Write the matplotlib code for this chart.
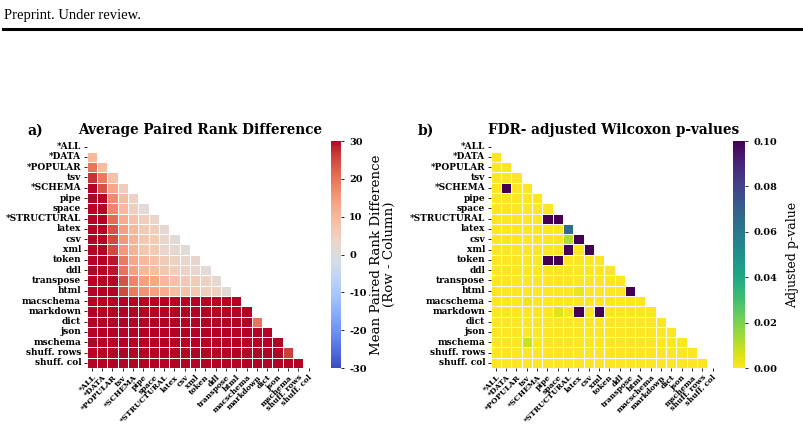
import numpy as np
import pandas as pd
import matplotlib
matplotlib.use('Agg')
import matplotlib.pyplot as plt
import seaborn as sns
from matplotlib.lines import Line2D

labels = ['*ALL', '*DATA', '*POPULAR', 'tsv', '*SCHEMA', 'pipe', 'space',
          '*STRUCTURAL', 'latex', 'csv', 'xml', 'token', 'ddl', 'transpose',
          'html', 'macschema', 'markdown', 'dict', 'json', 'mschema',
          'shuff. rows', 'shuff. col']

# mean paired rank difference (row - column), lower triangle, row by row
rank_diff_rows = [
    [],
    [10],
    [20, 9],
    [27, 19, 8],
    [32, 24, 13, 5],
    [32, 30, 17, 9, 4],
    [32, 31, 18, 10, 5, 1],
    [32, 31, 21, 12, 8, 5, 3],
    [33, 31, 24, 14, 10, 6, 5, 2],
    [33, 32, 25, 15, 11, 7, 6, 3, 1],
    [33, 32, 25, 15, 11, 7, 6, 3, 2, 1],
    [34, 33, 29, 19, 13, 10, 8, 6, 4, 3, 3],
    [34, 33, 29, 20, 14, 10, 9, 7, 5, 4, 3, 1],
    [35, 34, 30, 24, 18, 14, 13, 10, 8, 7, 6, 4, 2],
    [35, 34, 31, 25, 19, 16, 14, 12, 9, 8, 7, 5, 4, 1],
    [60, 58, 55, 50, 46, 44, 43, 41, 39, 38, 37, 35, 34, 32, 31],
    [63, 61, 58, 53, 49, 47, 46, 44, 42, 41, 40, 38, 37, 35, 34, 32],
    [66, 64, 61, 56, 52, 50, 49, 47, 45, 44, 43, 41, 40, 38, 37, 35, 20],
    [70, 68, 65, 60, 56, 54, 53, 51, 49, 48, 47, 45, 44, 42, 41, 39, 33, 31],
    [74, 72, 69, 64, 60, 58, 57, 55, 53, 52, 51, 49, 48, 46, 45, 43, 37, 35, 32],
    [77, 75, 72, 67, 63, 61, 60, 58, 56, 55, 54, 52, 51, 49, 48, 46, 40, 38, 35, 26],
    [82, 80, 77, 72, 68, 66, 65, 63, 61, 60, 59, 57, 56, 54, 53, 51, 45, 43, 40, 36, 31],
]

# FDR-adjusted Wilcoxon p-values, lower triangle, row by row
pval_rows = [
    [],
    [0.0],
    [0.0, 0.0],
    [0.0, 0.0, 0.0],
    [0.0, 0.2, 0.0, 0.0],
    [0.0, 0.0, 0.0, 0.0, 0.0],
    [0.0, 0.0, 0.0, 0.0, 0.0, 0.0],
    [0.0, 0.0, 0.0, 0.0, 0.0, 0.2, 0.2],
    [0.0, 0.0, 0.0, 0.0, 0.0, 0.0, 0.0, 0.065],
    [0.0, 0.0, 0.0, 0.0, 0.0, 0.0, 0.0, 0.012, 0.2],
    [0.0, 0.0, 0.0, 0.0, 0.0, 0.0, 0.0, 0.2, 0.0, 0.2],
    [0.0, 0.0, 0.0, 0.0, 0.0, 0.2, 0.2, 0.0, 0.0, 0.0, 0.0],
    [0.0, 0.0, 0.0, 0.0, 0.0, 0.0, 0.0, 0.0, 0.0, 0.0, 0.0, 0.0],
    [0.0, 0.0, 0.0, 0.0, 0.0, 0.0, 0.0, 0.0, 0.0, 0.0, 0.0, 0.0, 0.0],
    [0.0, 0.0, 0.0, 0.0, 0.0, 0.0, 0.0, 0.0, 0.003, 0.0, 0.0, 0.0, 0.0, 0.2],
    [0.0, 0.0, 0.0, 0.002, 0.0, 0.0, 0.0, 0.0, 0.0, 0.0, 0.0, 0.0, 0.0, 0.0, 0.0],
    [0.0, 0.0, 0.0, 0.0, 0.0, 0.0, 0.005, 0.0, 0.2, 0.0, 0.2, 0.0, 0.0, 0.0, 0.0, 0.0],
    [0.0] * 17,
    [0.0] * 18,
    [0.0, 0.0, 0.0, 0.008, 0.0, 0.0, 0.0, 0.0, 0.0, 0.0, 0.0, 0.0, 0.0, 0.0, 0.0, 0.0, 0.0, 0.0, 0.0],
    [0.0] * 20,
    [0.0] * 21,
]


def to_frame(rows):
    n = len(labels)
    m = np.full((n, n), np.nan)
    for i, r in enumerate(rows):
        m[i, :len(r)] = r
    return pd.DataFrame(m, index=labels, columns=labels)


rank_df = to_frame(rank_diff_rows)
pval_df = to_frame(pval_rows)
mask = np.triu(np.ones((len(labels), len(labels)), dtype=bool))

plt.rcParams['font.family'] = 'DejaVu Serif'
plt.rcParams['font.weight'] = 'bold'
plt.rcParams['axes.unicode_minus'] = False

W, H = 804, 429
fig = plt.figure(figsize=(W / 100, H / 100), dpi=100)


def box(x0, y0, x1, y1):
    return [x0 / W, 1 - y1 / H, (x1 - x0) / W, (y1 - y0) / H]


# header
fig.text(4 / W, 1 - 19 / H, 'Preprint. Under review.', family='Liberation Serif',
         fontweight='normal', fontsize=10.5, va='baseline', ha='left')
fig.add_artist(Line2D([3 / W, 801 / W], [1 - 29 / H] * 2, lw=2.2, color='black'))

ax1 = fig.add_axes(box(86.7, 141.4, 313.7, 368))
cax1 = fig.add_axes(box(331, 141, 341, 368))
ax2 = fig.add_axes(box(490.7, 141.4, 717.7, 368))
cax2 = fig.add_axes(box(733, 141, 745, 368))

sns.heatmap(rank_df, mask=mask, cmap='coolwarm', vmin=-30, vmax=30, center=0,
            linewidths=0.5, linecolor='white', ax=ax1, cbar_ax=cax1)
sns.heatmap(pval_df, mask=mask, cmap='viridis_r', vmin=0, vmax=0.1,
            linewidths=0.5, linecolor='white', ax=ax2, cbar_ax=cax2,
            cbar_kws={'format': '%.2f'})

cax1.set_yticks([-30, -20, -10, 0, 10, 20, 30])
cax2.set_yticks([0, 0.02, 0.04, 0.06, 0.08, 0.10])
cax1.set_ylabel('Mean Paired Rank Difference\n(Row - Column)', fontsize=9.6,
                fontweight='normal', labelpad=2, linespacing=1.05)
cax2.set_ylabel('Adjusted p-value', fontsize=9, fontweight='normal', labelpad=6)
for cax in (cax1, cax2):
    cax.tick_params(labelsize=7, length=2.5, width=0.6)

for ax in (ax1, ax2):
    ax.set_xticks(np.arange(len(labels)) + 0.5)
    ax.set_yticks(np.arange(len(labels)) + 0.5)
    ax.set_xticklabels(labels, rotation=45, ha='right', rotation_mode='anchor', fontsize=5.5)
    ax.set_yticklabels(labels, rotation=0, fontsize=6.5)
    ax.tick_params(length=2.5, width=0.6, pad=1.5)

ax1.set_title('Average Paired Rank Difference', fontsize=9.8, fontweight='bold', pad=5)
ax2.set_title('FDR- adjusted Wilcoxon p-values', fontsize=9.8, fontweight='bold',
              pad=5, x=0.54)
fig.text(27 / W, 1 - 135 / H, 'a)', fontsize=10, fontweight='bold', va='baseline')
fig.text(418 / W, 1 - 135 / H, 'b)', fontsize=10, fontweight='bold', va='baseline')

fig.savefig('out.png', dpi=100)
